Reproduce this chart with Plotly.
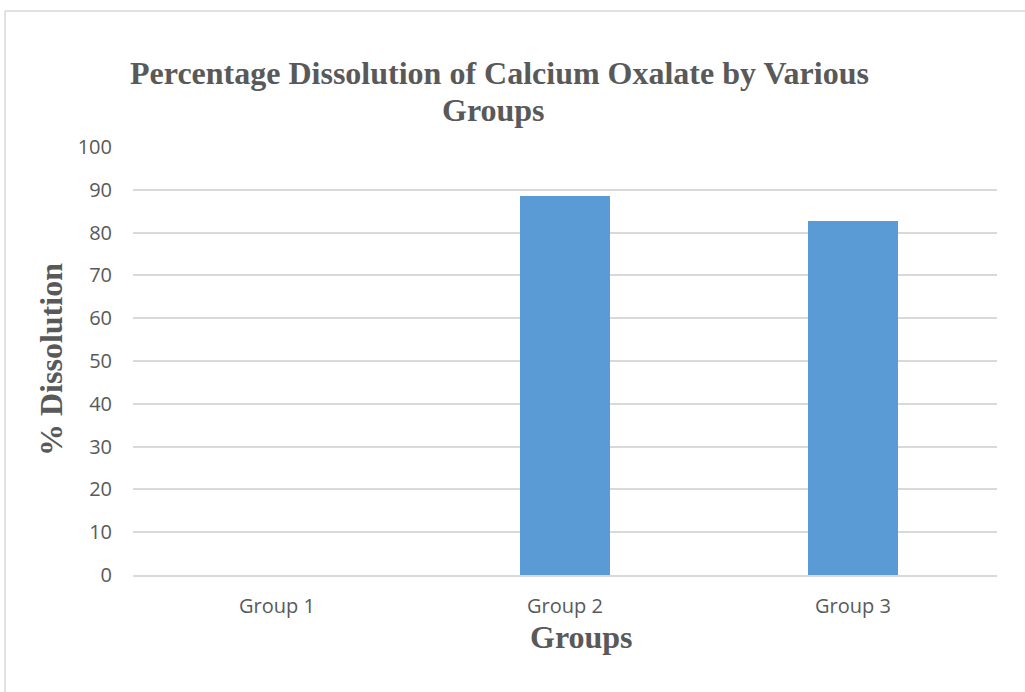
import plotly.graph_objects as go

groups = ["Group 1", "Group 2", "Group 3"]
dissolution = [0, 88.6, 82.8]
y_ticks = list(range(0, 101, 10))

W, H = 1025, 692
L, R, T, B = 133, 28, 147, 117
pw, ph = W - L - R, H - T - B


def px(x):
    return (x - L) / pw


def py(y):
    return (H - B - y) / ph


fig = go.Figure(
    go.Bar(
        x=groups,
        y=dissolution,
        width=0.3125,
        marker=dict(color="#5b9bd5", line=dict(width=0)),
    )
)

title_font = dict(family="Liberation Serif, Times New Roman, serif", size=32, color="#595959")
tick_font = dict(family="Open Sans, Calibri, sans-serif", size=20, color="#595959")


def label(text, x, y, angle=0):
    return dict(
        text=f"<b>{text}</b>", x=px(x), y=py(y), xref="paper", yref="paper",
        xanchor="center", yanchor="middle", showarrow=False,
        font=title_font, textangle=angle,
    )


fig.update_layout(
    width=W,
    height=H,
    margin=dict(l=L, r=R, t=T, b=B),
    paper_bgcolor="white",
    plot_bgcolor="white",
    showlegend=False,
    bargap=0,
    xaxis=dict(
        range=[-0.5, 2.5],
        showgrid=False,
        showline=True,
        linecolor="#d9d9d9",
        linewidth=2,
        ticks="",
        tickfont=tick_font,
        ticklabelstandoff=12,
    ),
    yaxis=dict(
        range=[0, 100],
        tickvals=y_ticks,
        showgrid=True,
        gridcolor="#d9d9d9",
        gridwidth=1.5,
        zeroline=False,
        showline=False,
        ticks="",
        tickfont=tick_font,
        ticklabelstandoff=20,
    ),
    annotations=[
        label("Percentage Dissolution of Calcium Oxalate by Various", 499, 73),
        label("Groups", 493, 110),
        label("% Dissolution", 51, 360, angle=-90),
        label("Groups", 581, 637),
    ],
    shapes=[
        dict(type="line", xref="paper", yref="paper",
             x0=px(5), x1=px(1030), y0=py(11), y1=py(11),
             line=dict(color="#d9d9d9", width=1.5)),
        dict(type="line", xref="paper", yref="paper",
             x0=px(5), x1=px(5), y0=py(11), y1=py(700),
             line=dict(color="#d9d9d9", width=1.5)),
    ],
)

fig.write_html("out.html")
